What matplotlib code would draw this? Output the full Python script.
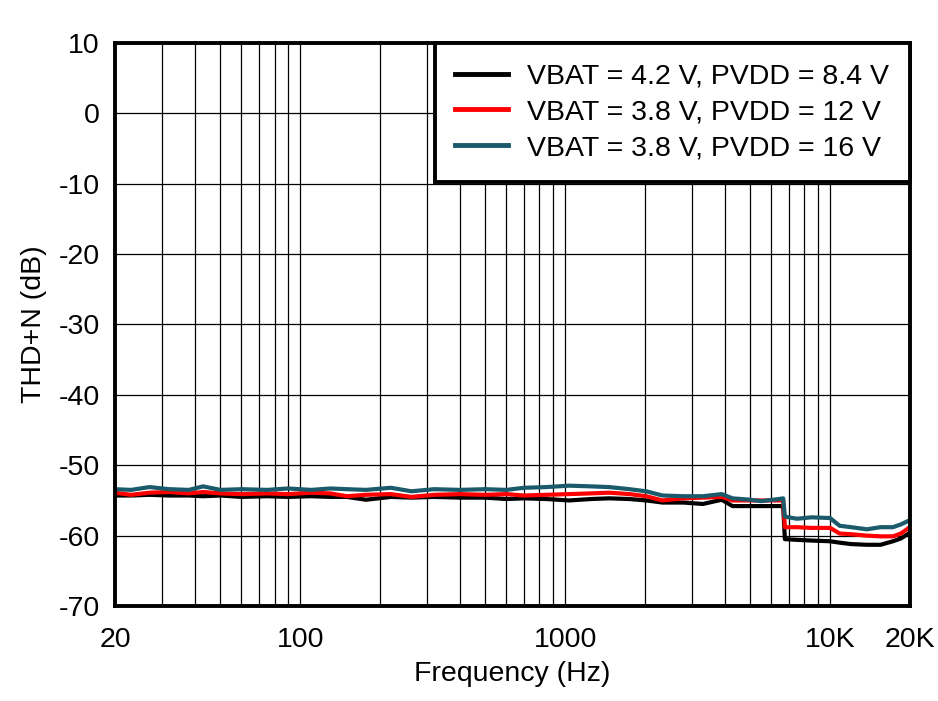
import matplotlib
matplotlib.use("Agg")
from matplotlib import pyplot as plt
from matplotlib.ticker import FixedLocator, LogLocator, NullFormatter
import numpy as np

plt.rcParams['font.family'] = ['Liberation Sans', 'DejaVu Sans']
plt.rcParams['axes.unicode_minus'] = False

# frequency points (Hz); the jump near 6.7 kHz is a real step in the curves
freq = [20, 23, 27, 32, 38, 43, 50, 60, 75, 90, 110, 130, 150, 177, 220, 263,
        320, 400, 500, 600, 700, 850, 1035, 1250, 1466, 1750, 2023, 2330, 2800,
        3310, 3900, 4280, 5000, 5500, 6400, 6650, 6750, 7500, 8500, 10000,
        10870, 12000, 13770, 15500, 17270, 18500, 20000]

thdn_42_84 = [-54.3, -54.3, -54.2, -54.3, -54.3, -54.4, -54.3, -54.5, -54.4, -54.5,
              -54.4, -54.5, -54.5, -54.9, -54.5, -54.6, -54.5, -54.6, -54.6, -54.8,
              -54.7, -54.8, -55.0, -54.8, -54.7, -54.8, -55.0, -55.3, -55.3, -55.5,
              -54.9, -55.8, -55.8, -55.8, -55.8, -55.8, -60.5, -60.6, -60.7, -60.8,
              -61.0, -61.2, -61.3, -61.3, -60.8, -60.4, -59.6]

thdn_38_12 = [-53.9, -54.2, -53.9, -53.8, -54.0, -53.8, -54.0, -54.1, -54.0, -54.1,
              -53.9, -54.0, -54.4, -54.2, -54.1, -54.5, -54.2, -54.1, -54.2, -54.1,
              -54.3, -54.2, -54.1, -54.0, -53.9, -54.1, -54.4, -55.0, -54.7, -54.6,
              -54.5, -55.0, -55.0, -55.0, -55.0, -55.0, -58.8, -58.8, -58.9, -58.9,
              -59.7, -59.8, -60.0, -60.1, -60.1, -59.7, -58.8]

thdn_38_16 = [-53.4, -53.5, -53.1, -53.4, -53.5, -53.0, -53.5, -53.4, -53.5, -53.3,
              -53.5, -53.3, -53.4, -53.5, -53.2, -53.7, -53.4, -53.5, -53.4, -53.5,
              -53.2, -53.1, -52.9, -53.0, -53.1, -53.4, -53.7, -54.3, -54.4, -54.4,
              -54.1, -54.7, -54.9, -55.1, -54.8, -54.7, -57.3, -57.6, -57.4, -57.5,
              -58.6, -58.8, -59.1, -58.8, -58.8, -58.4, -57.8]

labels = ['VBAT = 4.2 V, PVDD = 8.4 V',
          'VBAT = 3.8 V, PVDD = 12 V',
          'VBAT = 3.8 V, PVDD = 16 V']
colors = ['#000000', '#ff0000', '#1b5a6a']

xticks = [20, 100, 1000, 10000, 20000]
xticklabels = ['20', '100', '1000', '10K', '20K']
yticks = list(range(-70, 11, 10))

fig = plt.figure(figsize=(9.38, 7.01), dpi=100)
ax = fig.add_axes([0.1226, 0.1355, 0.8474, 0.8032])

for vals, lab, col in zip([thdn_42_84, thdn_38_12, thdn_38_16], labels, colors):
    ax.plot(freq, vals, color=col, lw=3, label=lab)

ax.set_xscale('log')
ax.set_xlim(20, 20000)
ax.set_ylim(-70, 10)
ax.xaxis.set_major_locator(FixedLocator(xticks))
ax.set_xticklabels(xticklabels)
ax.xaxis.set_minor_locator(LogLocator(base=10, subs=np.arange(2, 10)))
ax.xaxis.set_minor_formatter(NullFormatter())
ax.set_yticks(yticks)

ax.grid(True, which='both', axis='x', color='black', lw=0.9)
ax.grid(True, which='major', axis='y', color='black', lw=0.9)
ax.tick_params(which='both', length=0, labelsize=20.5)
ax.tick_params(axis='x', pad=15)
ax.tick_params(axis='y', pad=11)
for s in ax.spines.values():
    s.set_linewidth(2.8)

ax.set_xlabel('Frequency (Hz)', fontsize=20.5, labelpad=6)
ax.set_ylabel('THD+N (dB)', fontsize=20.5, labelpad=8)

leg = ax.legend(loc='upper right', fontsize=20.5, fancybox=False, framealpha=1,
                edgecolor='black', borderaxespad=0.0, handlelength=1.86,
                handletextpad=0.67, labelspacing=0.35, borderpad=0.72)
leg.get_frame().set_linewidth(2.8)
for h in leg.get_lines():
    h.set_linewidth(3.5)

fig.savefig('out.png', dpi=100)
